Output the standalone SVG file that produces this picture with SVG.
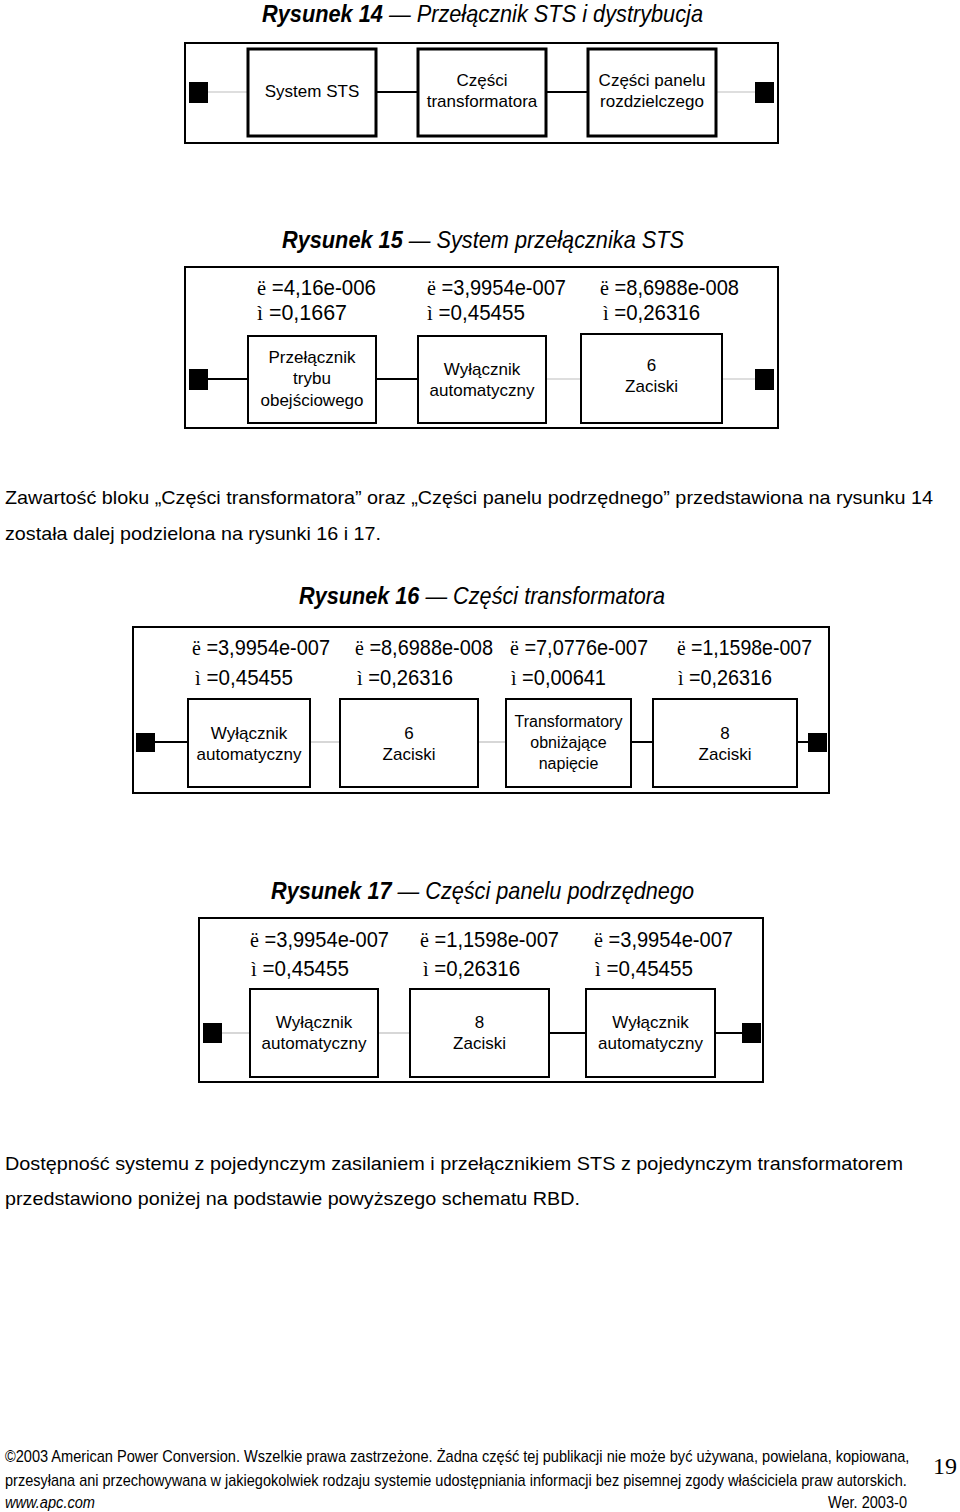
<svg xmlns="http://www.w3.org/2000/svg" width="960" height="1512" viewBox="0 0 960 1512">
<style>
text{font-family:"Liberation Sans",Arial,sans-serif;fill:#000}
.ttl{font-size:24px;font-style:italic}
.ttl .b{font-weight:bold}
.lbl{font-size:17px;text-anchor:middle}
.lbl.sm{font-size:16px}
.val{font-size:22px}
.sym{font-family:"Liberation Serif","Times New Roman",serif}
.par{font-size:19px}
.foot{font-size:16px}
.frame{fill:none;stroke:#000;stroke-width:2}
.box{fill:#fff;stroke:#000;stroke-width:2}
.box.thick{stroke-width:3}
.term{fill:#000}
.blk{stroke:#000;stroke-width:2}
.gry{stroke:#bdbdbd;stroke-width:1.2}
</style>

<!-- Figure 14 -->
<text class="ttl" x="262" y="22" textLength="441" lengthAdjust="spacingAndGlyphs"><tspan class="b">Rysunek 14</tspan> — Przełącznik STS i dystrybucja</text>
<rect class="frame" x="185" y="43" width="593" height="100"/>
<g id="connectors-fig14">
<line class="gry" x1="208" y1="92" x2="248" y2="92"/>
<line class="blk" x1="376" y1="92" x2="418" y2="92"/>
<line class="blk" x1="546" y1="92" x2="588" y2="92"/>
<line class="gry" x1="716" y1="92" x2="755" y2="92"/>
</g>
<g id="f14-in"><rect class="term" x="189" y="82" width="19" height="21"/></g>
<g id="f14-out"><rect class="term" x="755" y="82" width="19" height="21"/></g>
<g id="f14-sts"><rect class="box thick" x="248" y="49" width="128" height="87"/>
<text class="lbl" x="312" y="97">System STS</text></g>
<g id="f14-trans"><rect class="box thick" x="418" y="49" width="128" height="87"/>
<text class="lbl" x="482" y="86">Części</text><text class="lbl" x="482" y="107">transformatora</text></g>
<g id="f14-panel"><rect class="box thick" x="588" y="49" width="128" height="87"/>
<text class="lbl" x="652" y="86">Części panelu</text><text class="lbl" x="652" y="107">rozdzielczego</text></g>

<!-- Figure 15 -->
<text class="ttl" x="282" y="248" textLength="402" lengthAdjust="spacingAndGlyphs"><tspan class="b">Rysunek 15</tspan> — System przełącznika STS</text>
<rect class="frame" x="185" y="267" width="593" height="161"/>
<g id="connectors-fig15">
<line class="blk" x1="208" y1="379" x2="248" y2="379"/>
<line class="blk" x1="376" y1="379" x2="418" y2="379"/>
<line class="gry" x1="546" y1="379" x2="581" y2="379"/>
<line class="gry" x1="722" y1="379" x2="755" y2="379"/>
</g>
<g id="f15-in"><rect class="term" x="189" y="369" width="19" height="21"/></g>
<g id="f15-out"><rect class="term" x="755" y="369" width="19" height="21"/></g>
<g id="f15-bypass">
<text class="val" x="257" y="295" textLength="119" lengthAdjust="spacingAndGlyphs"><tspan class="sym">ë</tspan> =4,16e-006</text>
<text class="val" x="257" y="320" textLength="90" lengthAdjust="spacingAndGlyphs"><tspan class="sym">ì</tspan> =0,1667</text>
<rect class="box" x="248" y="336" width="128" height="87"/>
<text class="lbl" x="312" y="363">Przełącznik</text><text class="lbl" x="312" y="384">trybu</text><text class="lbl" x="312" y="406">obejściowego</text></g>
<g id="f15-breaker">
<text class="val" x="427" y="295" textLength="139" lengthAdjust="spacingAndGlyphs"><tspan class="sym">ë</tspan> =3,9954e-007</text>
<text class="val" x="427" y="320" textLength="98" lengthAdjust="spacingAndGlyphs"><tspan class="sym">ì</tspan> =0,45455</text>
<rect class="box" x="418" y="336" width="128" height="87"/>
<text class="lbl" x="482" y="375">Wyłącznik</text><text class="lbl" x="482" y="396">automatyczny</text></g>
<g id="f15-term6">
<text class="val" x="600" y="295" textLength="139" lengthAdjust="spacingAndGlyphs"><tspan class="sym">ë</tspan> =8,6988e-008</text>
<text class="val" x="603" y="320" textLength="97" lengthAdjust="spacingAndGlyphs"><tspan class="sym">ì</tspan> =0,26316</text>
<rect class="box" x="581" y="334" width="141" height="89"/>
<text class="lbl" x="651.5" y="371">6</text><text class="lbl" x="651.5" y="392">Zaciski</text></g>

<!-- Paragraph 1 -->
<text class="par" x="5" y="504" textLength="928" lengthAdjust="spacingAndGlyphs">Zawartość bloku „Części transformatora” oraz „Części panelu podrzędnego” przedstawiona na rysunku 14</text>
<text class="par" x="5" y="540" textLength="376" lengthAdjust="spacingAndGlyphs">została dalej podzielona na rysunki 16 i 17.</text>

<!-- Figure 16 -->
<text class="ttl" x="299" y="604" textLength="366" lengthAdjust="spacingAndGlyphs"><tspan class="b">Rysunek 16</tspan> — Części transformatora</text>
<rect class="frame" x="133" y="627" width="696" height="166"/>
<g id="connectors-fig16">
<line class="blk" x1="155" y1="742" x2="188" y2="742"/>
<line class="gry" x1="310" y1="742" x2="340" y2="742"/>
<line class="gry" x1="478" y1="742" x2="506" y2="742"/>
<line class="blk" x1="631" y1="742" x2="653" y2="742"/>
<line class="blk" x1="797" y1="742" x2="808" y2="742"/>
</g>
<g id="f16-in"><rect class="term" x="136" y="733" width="19" height="19"/></g>
<g id="f16-out"><rect class="term" x="808" y="733" width="19" height="19"/></g>
<g id="f16-breaker">
<text class="val" x="192" y="655" textLength="138" lengthAdjust="spacingAndGlyphs"><tspan class="sym">ë</tspan> =3,9954e-007</text>
<text class="val" x="195" y="685" textLength="98" lengthAdjust="spacingAndGlyphs"><tspan class="sym">ì</tspan> =0,45455</text>
<rect class="box" x="188" y="699" width="122" height="88"/>
<text class="lbl" x="249" y="739">Wyłącznik</text><text class="lbl" x="249" y="760">automatyczny</text></g>
<g id="f16-term6">
<text class="val" x="355" y="655" textLength="138" lengthAdjust="spacingAndGlyphs"><tspan class="sym">ë</tspan> =8,6988e-008</text>
<text class="val" x="357" y="685" textLength="96" lengthAdjust="spacingAndGlyphs"><tspan class="sym">ì</tspan> =0,26316</text>
<rect class="box" x="340" y="699" width="138" height="88"/>
<text class="lbl" x="409" y="739">6</text><text class="lbl" x="409" y="760">Zaciski</text></g>
<g id="f16-transformer">
<text class="val" x="510" y="655" textLength="138" lengthAdjust="spacingAndGlyphs"><tspan class="sym">ë</tspan> =7,0776e-007</text>
<text class="val" x="511" y="685" textLength="95" lengthAdjust="spacingAndGlyphs"><tspan class="sym">ì</tspan> =0,00641</text>
<rect class="box" x="506" y="699" width="125" height="88"/>
<text class="lbl sm" x="568.5" y="727">Transformatory</text><text class="lbl sm" x="568.5" y="748">obniżające</text><text class="lbl sm" x="568.5" y="769">napięcie</text></g>
<g id="f16-term8">
<text class="val" x="677" y="655" textLength="135" lengthAdjust="spacingAndGlyphs"><tspan class="sym">ë</tspan> =1,1598e-007</text>
<text class="val" x="678" y="685" textLength="94" lengthAdjust="spacingAndGlyphs"><tspan class="sym">ì</tspan> =0,26316</text>
<rect class="box" x="653" y="699" width="144" height="88"/>
<text class="lbl" x="725" y="739">8</text><text class="lbl" x="725" y="760">Zaciski</text></g>

<!-- Figure 17 -->
<text class="ttl" x="271" y="899" textLength="423" lengthAdjust="spacingAndGlyphs"><tspan class="b">Rysunek 17</tspan> — Części panelu podrzędnego</text>
<rect class="frame" x="199" y="918" width="564" height="164"/>
<g id="connectors-fig17">
<line class="gry" x1="222" y1="1033" x2="250" y2="1033"/>
<line class="gry" x1="378" y1="1033" x2="410" y2="1033"/>
<line class="blk" x1="549" y1="1033" x2="586" y2="1033"/>
<line class="blk" x1="715" y1="1033" x2="742" y2="1033"/>
</g>
<g id="f17-in"><rect class="term" x="203" y="1023" width="19" height="20"/></g>
<g id="f17-out"><rect class="term" x="742" y="1023" width="19" height="20"/></g>
<g id="f17-breaker1">
<text class="val" x="250" y="947" textLength="139" lengthAdjust="spacingAndGlyphs"><tspan class="sym">ë</tspan> =3,9954e-007</text>
<text class="val" x="251" y="976" textLength="98" lengthAdjust="spacingAndGlyphs"><tspan class="sym">ì</tspan> =0,45455</text>
<rect class="box" x="250" y="989" width="128" height="88"/>
<text class="lbl" x="314" y="1028">Wyłącznik</text><text class="lbl" x="314" y="1049">automatyczny</text></g>
<g id="f17-term8">
<text class="val" x="420" y="947" textLength="139" lengthAdjust="spacingAndGlyphs"><tspan class="sym">ë</tspan> =1,1598e-007</text>
<text class="val" x="423" y="976" textLength="97" lengthAdjust="spacingAndGlyphs"><tspan class="sym">ì</tspan> =0,26316</text>
<rect class="box" x="410" y="989" width="139" height="88"/>
<text class="lbl" x="479.5" y="1028">8</text><text class="lbl" x="479.5" y="1049">Zaciski</text></g>
<g id="f17-breaker2">
<text class="val" x="594" y="947" textLength="139" lengthAdjust="spacingAndGlyphs"><tspan class="sym">ë</tspan> =3,9954e-007</text>
<text class="val" x="595" y="976" textLength="98" lengthAdjust="spacingAndGlyphs"><tspan class="sym">ì</tspan> =0,45455</text>
<rect class="box" x="586" y="989" width="129" height="88"/>
<text class="lbl" x="650.5" y="1028">Wyłącznik</text><text class="lbl" x="650.5" y="1049">automatyczny</text></g>

<!-- Paragraph 2 -->
<text class="par" x="5" y="1170" textLength="898" lengthAdjust="spacingAndGlyphs">Dostępność systemu z pojedynczym zasilaniem i przełącznikiem STS z pojedynczym transformatorem</text>
<text class="par" x="5" y="1205" textLength="575" lengthAdjust="spacingAndGlyphs">przedstawiono poniżej na podstawie powyższego schematu RBD.</text>

<!-- Footer -->
<text class="foot" transform="translate(5 1462) scale(0.85 1)" x="0" y="0" textLength="1064" lengthAdjust="spacingAndGlyphs">©2003 American Power Conversion. Wszelkie prawa zastrzeżone. Żadna część tej publikacji nie może być używana, powielana, kopiowana,</text>
<text class="foot" transform="translate(5 1486) scale(0.85 1)" x="0" y="0" textLength="1061" lengthAdjust="spacingAndGlyphs">przesyłana ani przechowywana w jakiegokolwiek rodzaju systemie udostępniania informacji bez pisemnej zgody właściciela praw autorskich.</text>
<text class="foot" x="5" y="1508" font-style="italic" textLength="90" lengthAdjust="spacingAndGlyphs">www.apc.com</text>
<text class="foot" x="828" y="1508" textLength="79" lengthAdjust="spacingAndGlyphs">Wer. 2003-0</text>
<text x="933" y="1474" font-size="24" style="font-family:'Liberation Serif','Times New Roman',serif">19</text>
</svg>
